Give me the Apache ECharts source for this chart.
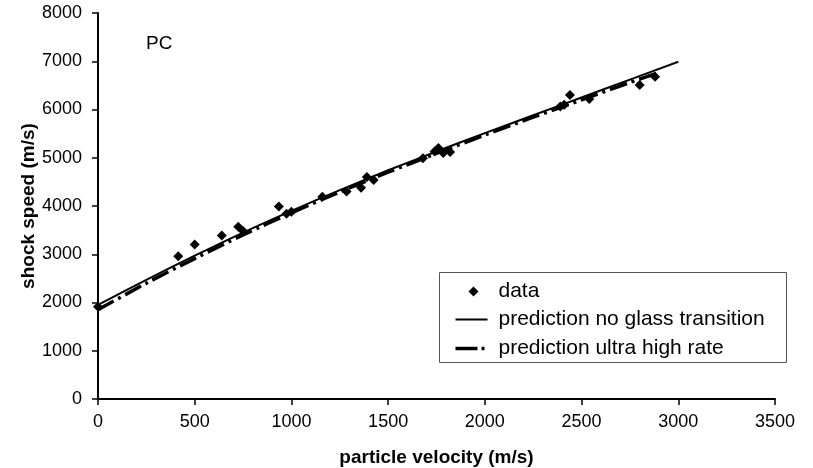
<!DOCTYPE html>
<html>
<head>
<meta charset="utf-8">
<script src="https://cdn.jsdelivr.net/npm/echarts@6/dist/echarts.min.js"></script>
<style>
  html, body { margin: 0; padding: 0; background: #fff; }
  #chart { width: 813px; height: 468px; }
</style>
</head>
<body>
<div id="chart"></div>
<script>
// Measured shock data for PC: particle velocity (m/s) and shock speed (m/s)
const dataVelocity = [0, 415, 500, 640, 725, 750, 935, 975, 1000, 1160, 1285, 1360, 1390, 1425,
  1680, 1740, 1760, 1785, 1820, 2390, 2410, 2440, 2540, 2800, 2880];
const dataShock = [1910, 2960, 3200, 3390, 3570, 3480, 3990, 3840, 3880, 4190, 4300, 4380, 4600, 4540,
  4990, 5130, 5200, 5100, 5120, 6060, 6100, 6300, 6220, 6510, 6680];

// Model curve without glass transition
const noGlassVelocity = [0, 250, 500, 750, 1000, 1250, 1500, 1750, 2000, 2250, 2500, 2750, 3000];
const noGlassShock = [1950, 2470, 2970, 3450, 3900, 4330, 4740, 5130, 5510, 5880, 6250, 6620, 6990];

// Model curve for ultra high strain rate
const ultraVelocity = [0, 250, 500, 750, 1000, 1250, 1500, 1750, 2000, 2250, 2500, 2750, 2900];
const ultraShock = [1850, 2400, 2910, 3400, 3860, 4290, 4700, 5090, 5470, 5840, 6200, 6560, 6770];

const xTicks = { min: 0, max: 3500, interval: 500 };
const yTicks = { min: 0, max: 8000, interval: 1000 };

const seriesNames = ['data', 'prediction no glass transition', 'prediction ultra high rate'];

const pairs = (xs, ys) => xs.map((x, i) => [x, ys[i]]);

const FONT = '"Liberation Sans", Arial, sans-serif';
const chart = echarts.init(document.getElementById('chart'), null, { renderer: 'canvas' });

const axisCommon = {
  axisLine: { show: true, lineStyle: { color: '#000', width: 2 } },
  axisTick: { show: true, inside: false, length: 6, lineStyle: { color: '#000', width: 1.5 } },
  splitLine: { show: false },
  nameMoveOverlap: false,
  axisLabel: { color: '#000', fontSize: 18, fontFamily: FONT, formatter: v => String(v) },
  nameTextStyle: { color: '#000', fontSize: 19, fontWeight: 'bold', fontFamily: FONT }
};

const legendX = 439, legendY = 272, legendW = 347, legendH = 90;
const rowY = [291, 319, 348];
const legendFont = '21px ' + FONT;

chart.setOption({
  animation: false,
  backgroundColor: '#fff',
  grid: { left: 98, right: 38, top: 13, bottom: 69, containLabel: false, outerBoundsMode: 'none' },
  xAxis: Object.assign({}, axisCommon, {
    type: 'value', min: xTicks.min, max: xTicks.max, interval: xTicks.interval,
    name: 'particle velocity (m/s)', nameLocation: 'middle', nameGap: 49,
    axisLabel: Object.assign({}, axisCommon.axisLabel, { margin: 14 })
  }),
  yAxis: Object.assign({}, axisCommon, {
    type: 'value', min: yTicks.min, max: yTicks.max, interval: yTicks.interval,
    name: 'shock speed (m/s)', nameLocation: 'middle', nameGap: 60,
    axisLabel: Object.assign({}, axisCommon.axisLabel, { margin: 16 })
  }),
  series: [
    {
      name: seriesNames[1], type: 'line', data: pairs(noGlassVelocity, noGlassShock),
      smooth: 0.3, showSymbol: false, z: 2,
      lineStyle: { color: '#000', width: 2 }
    },
    {
      name: seriesNames[2], type: 'line', data: pairs(ultraVelocity, ultraShock),
      smooth: 0.3, showSymbol: false, z: 3,
      lineStyle: { color: '#000', width: 3.5, type: [18, 5, 3, 5], cap: 'butt' }
    },
    {
      name: seriesNames[0], type: 'scatter', data: pairs(dataVelocity, dataShock),
      symbol: 'diamond', symbolSize: 10, z: 4,
      itemStyle: { color: '#000', opacity: 1 }
    }
  ],
  graphic: [
    {
      type: 'text', left: 146, top: 34,
      style: { text: 'PC', fill: '#000', font: '19px ' + FONT }
    },
    {
      type: 'group', left: legendX, top: legendY,
      children: [
        { type: 'rect', shape: { x: 0, y: 0, width: legendW, height: legendH },
          style: { fill: '#fff', stroke: '#555', lineWidth: 1 } },
        { type: 'polygon', shape: { points: [[34, rowY[0] - legendY - 5], [39, rowY[0] - legendY], [34, rowY[0] - legendY + 5], [29, rowY[0] - legendY]] },
          style: { fill: '#000' } },
        { type: 'line', shape: { x1: 16, y1: rowY[1] - legendY, x2: 48, y2: rowY[1] - legendY },
          style: { stroke: '#000', lineWidth: 2 } },
        { type: 'line', shape: { x1: 16, y1: rowY[2] - legendY, x2: 38, y2: rowY[2] - legendY },
          style: { stroke: '#000', lineWidth: 3.5 } },
        { type: 'rect', shape: { x: 42, y: rowY[2] - legendY - 1.75, width: 3, height: 3.5 },
          style: { fill: '#000' } },
        { type: 'text', x: 59, y: rowY[0] - legendY,
          style: { text: seriesNames[0], fill: '#000', font: legendFont, textVerticalAlign: 'middle' } },
        { type: 'text', x: 59, y: rowY[1] - legendY,
          style: { text: seriesNames[1], fill: '#000', font: legendFont, textVerticalAlign: 'middle' } },
        { type: 'text', x: 59, y: rowY[2] - legendY,
          style: { text: seriesNames[2], fill: '#000', font: legendFont, textVerticalAlign: 'middle' } }
      ]
    }
  ]
});
</script>
</body>
</html>
